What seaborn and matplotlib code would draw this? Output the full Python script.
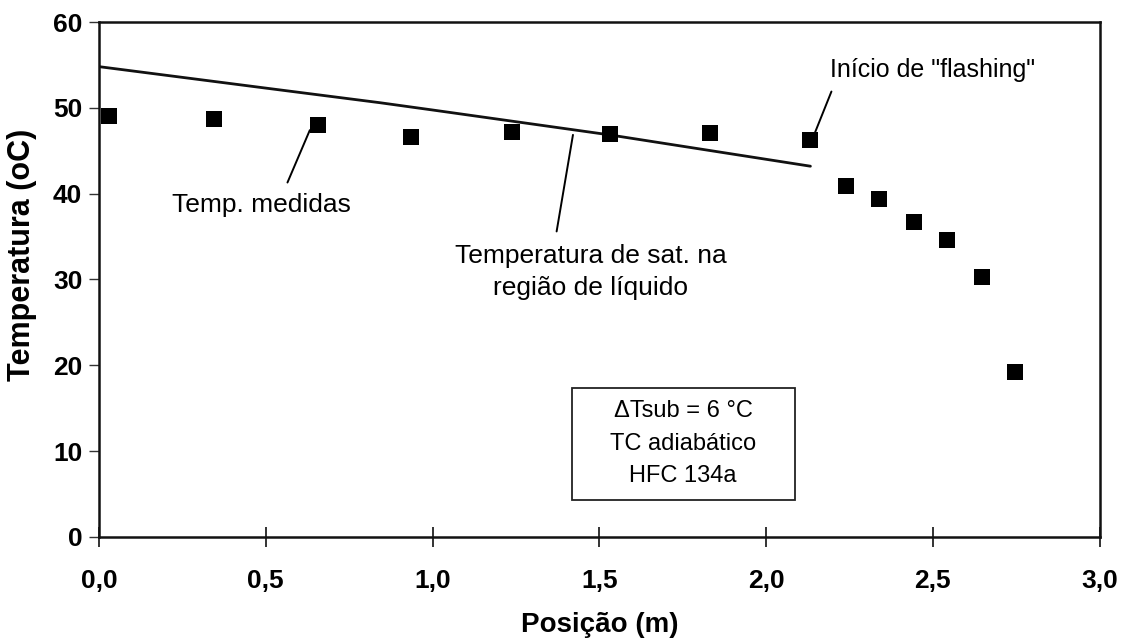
import matplotlib
matplotlib.use("Agg")
import matplotlib.pyplot as plt
import seaborn as sns
import pandas as pd
from matplotlib.patches import Rectangle

# Measured temperatures
pos_medida = [0.03, 0.345, 0.656, 0.934, 1.237, 1.531, 1.831, 2.133, 2.24, 2.34, 2.444, 2.543, 2.648, 2.746]
temp_medida = [49.1, 48.7, 48.0, 46.6, 47.2, 46.9, 47.1, 46.3, 40.9, 39.4, 36.7, 34.6, 30.3, 19.2]

# Saturation temperature in liquid region
pos_sat = [0.0, 0.5, 0.842, 1.0, 1.531, 2.133]
temp_sat = [54.8, 52.3, 50.6, 49.75, 46.85, 43.2]

x_ticks = [0.0, 0.5, 1.0, 1.5, 2.0, 2.5, 3.0]
x_ticklabels = ["0,0", "0,5", "1,0", "1,5", "2,0", "2,5", "3,0"]
y_ticks = [0, 10, 20, 30, 40, 50, 60]

sns.set_style("white")
plt.rcParams['font.family'] = ['Liberation Sans', 'DejaVu Sans']
plt.rcParams['text.color'] = 'black'
plt.rcParams['axes.labelcolor'] = 'black'

fig = plt.figure(figsize=(11.28, 6.42), dpi=100)
ax = fig.add_axes([0.0878, 0.1636, 0.8870, 0.8021])

df_m = pd.DataFrame({"x": pos_medida, "y": temp_medida})
df_s = pd.DataFrame({"x": pos_sat, "y": temp_sat})

sns.lineplot(data=df_s, x="x", y="y", ax=ax, color="#111111", linewidth=2.0, sort=False)
sns.scatterplot(data=df_m, x="x", y="y", ax=ax, marker="s", s=120, color="black",
                edgecolor="black", linewidth=0, zorder=5, clip_on=False)

ax.set_xlim(0, 3.0)
ax.set_ylim(0, 60)
ax.set_xticks(x_ticks)
ax.set_xticklabels(x_ticklabels)
ax.set_yticks(y_ticks)

for sp in ax.spines.values():
    sp.set_color("#111111")
    sp.set_linewidth(1.8)

ax.tick_params(axis="x", bottom=True, direction="inout", length=14, width=1.2, colors="#111111",
               labelcolor="black", labelsize=19, pad=16)
ax.tick_params(axis="y", left=True, direction="out", length=7, width=1.0, colors="#333333",
               labelcolor="black", labelsize=19, pad=5)
for lab in ax.get_xticklabels() + ax.get_yticklabels():
    lab.set_fontweight("bold")

ax.set_xlabel("Posição (m)", fontsize=20, fontweight="bold", labelpad=14)
ax.set_ylabel("Temperatura (oC)", fontsize=22, fontweight="bold")
ax.yaxis.set_label_coords(-0.062, 0.548)

line_kw = dict(arrowstyle="-", color="black", lw=1.4, shrinkA=0, shrinkB=0)

# Annotations
ax.text(0.488, 38.7, "Temp. medidas", fontsize=19, ha="center", va="center")
ax.annotate("", xy=(0.632, 47.4), xytext=(0.565, 41.3), arrowprops=line_kw)

ax.text(1.474, 30.9, "Temperatura de sat. na\nregião de líquido", fontsize=19,
        ha="center", va="center", linespacing=1.4)
ax.annotate("", xy=(1.421, 46.85), xytext=(1.372, 35.6), arrowprops=line_kw)

ax.text(2.50, 54.4, 'Início de "flashing"', fontsize=18, ha="center", va="center")
ax.annotate("", xy=(2.146, 47.05), xytext=(2.196, 51.9), arrowprops=line_kw)

ax.add_patch(Rectangle((1.417, 4.3), 0.669, 13.1, fill=False, edgecolor="#222222", lw=1.3))
ax.text(1.7515, 10.85, "ΔTsub = 6 °C\nTC adiabático\nHFC 134a", fontsize=17,
        ha="center", va="center", linespacing=1.62)

fig.savefig("out.png", dpi=100)
